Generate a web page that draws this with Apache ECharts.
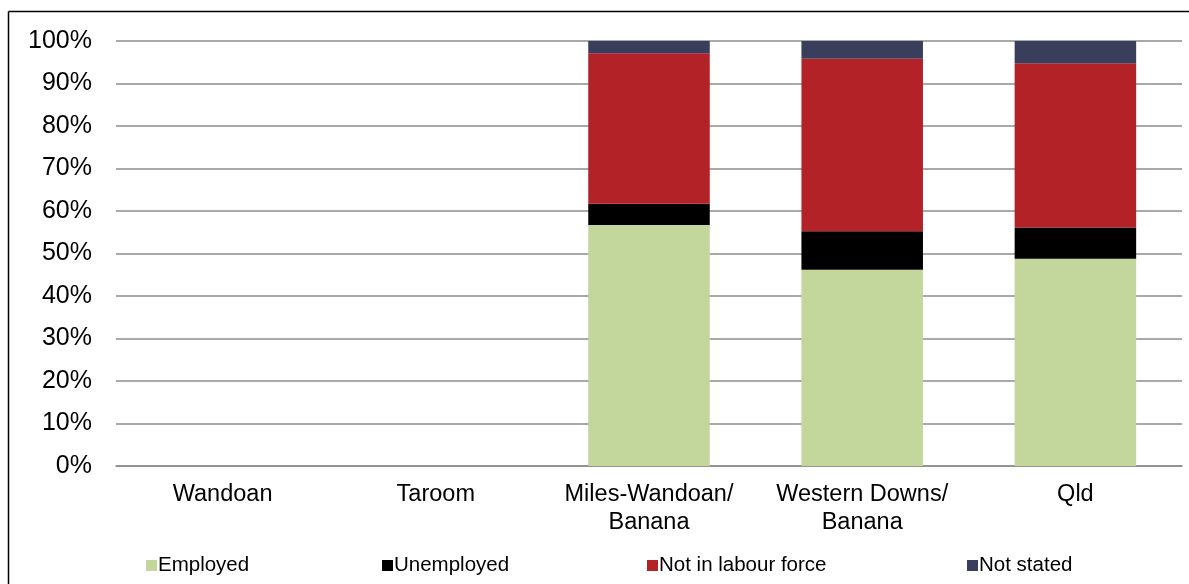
<!DOCTYPE html>
<html>
<head>
<meta charset="utf-8">
<style>
  html, body { margin: 0; padding: 0; background: #ffffff; }
  #chart { width: 1189px; height: 584px; }
</style>
<script src="https://cdn.jsdelivr.net/npm/echarts@6/dist/echarts.min.js"></script>
</head>
<body>
<div id="chart"></div>
<script>
// Labour force status by area (% of population aged 15+)
var categories = ['Wandoan', 'Taroom', 'Miles-Wandoan/\nBanana', 'Western Downs/\nBanana', 'Qld'];
var employed = [null, null, 56.7, 46.2, 48.75];
var unemployed = [null, null, 5.0, 9.05, 7.35];
var notInLabourForce = [null, null, 35.4, 40.6, 38.65];
var notStated = [null, null, 2.9, 4.15, 5.25];
var yTicks = [0, 10, 20, 30, 40, 50, 60, 70, 80, 90, 100];

var seriesNames = ['Employed', 'Unemployed', 'Not in labour force', 'Not stated'];
var seriesColors = ['#c3d69b', '#000000', '#b22226', '#383e5c'];
var seriesData = [employed, unemployed, notInLabourForce, notStated];
var legendLefts = [146, 382, 647, 967];

var FONT = '"Liberation Sans", Arial, sans-serif';

var chart = echarts.init(document.getElementById('chart'), null, { renderer: 'canvas' });

var option = {
  backgroundColor: '#ffffff',
  animation: false,
  textStyle: { fontFamily: FONT, color: '#000000' },
  grid: { left: 116, right: 7, top: 41, bottom: 118, containLabel: false },
  legend: seriesNames.map(function (name, i) {
    return {
      data: [name],
      left: legendLefts[i],
      top: 555,
      padding: 0,
      icon: 'rect',
      itemWidth: 11,
      itemHeight: 11,
      itemGap: 0,
      selectedMode: false,
      textStyle: { fontFamily: FONT, fontSize: 20.5, color: '#000000', padding: [0, 0, 0, -4] }
    };
  }),
  xAxis: {
    type: 'category',
    data: categories,
    axisLine: { show: true, lineStyle: { color: '#8c8c8c', width: 1.5 } },
    axisTick: { show: false },
    axisLabel: {
      interval: 0,
      margin: 15,
      fontFamily: FONT,
      fontSize: 23.5,
      lineHeight: 28,
      color: '#000000'
    }
  },
  yAxis: {
    type: 'value',
    min: yTicks[0],
    max: yTicks[yTicks.length - 1],
    interval: yTicks[1] - yTicks[0],
    axisLine: { show: false },
    axisTick: { show: false },
    splitLine: { show: true, lineStyle: { color: '#8c8c8c', width: 1.5 } },
    axisLabel: {
      margin: 24,
      fontFamily: FONT,
      fontSize: 25,
      padding: [4, 0, 0, 0],
      color: '#000000',
      formatter: function (v) { return v + '%'; }
    }
  },
  series: seriesNames.map(function (name, i) {
    return {
      name: name,
      type: 'bar',
      stack: 'total',
      data: seriesData[i],
      barCategoryGap: '43%',
      itemStyle: { color: seriesColors[i] }
    };
  }),
  graphic: [
    { type: 'line', shape: { x1: 8.5, y1: 11.5, x2: 1189, y2: 11.5 }, style: { stroke: '#000000', lineWidth: 1.5 }, silent: true },
    { type: 'line', shape: { x1: 8.5, y1: 11.5, x2: 8.5, y2: 584 }, style: { stroke: '#000000', lineWidth: 1.5 }, silent: true }
  ]
};

chart.setOption(option);
</script>
</body>
</html>
